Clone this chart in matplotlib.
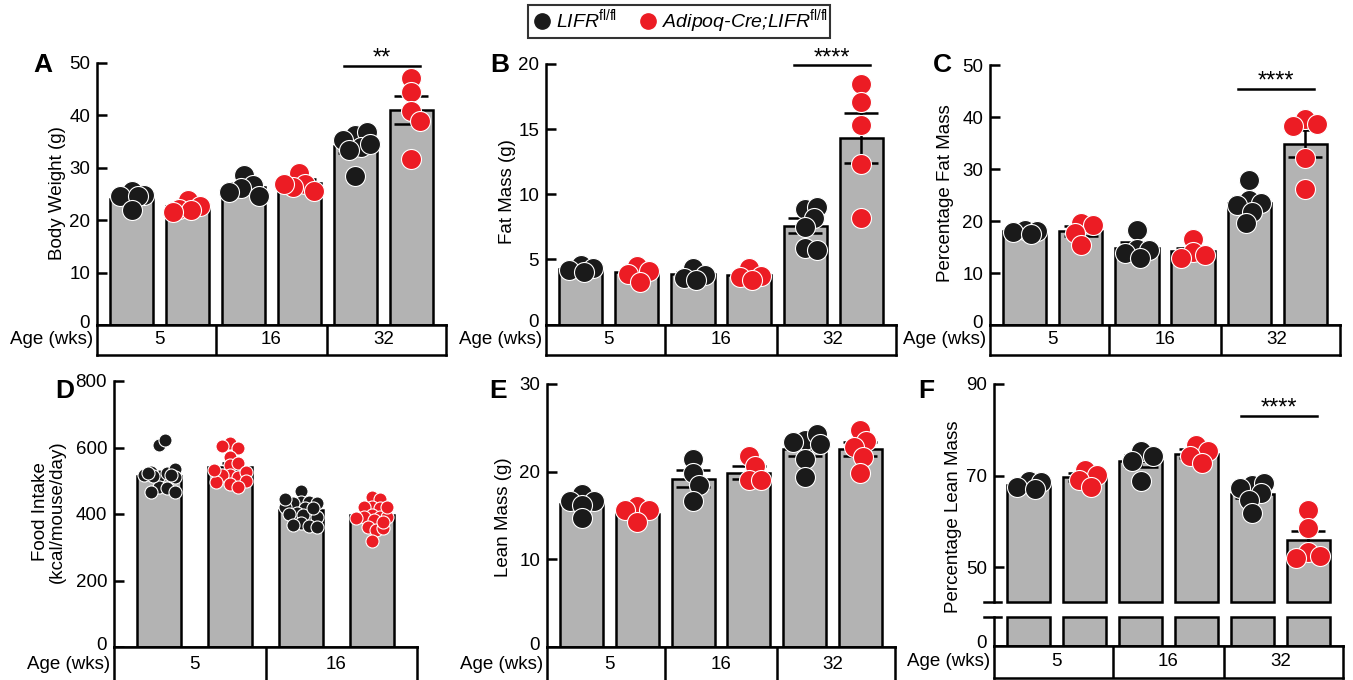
"""
LIFR adipocyte knockout: body composition panels A-F
"""

import numpy as np
import matplotlib.pyplot as plt
from matplotlib.lines import Line2D
from matplotlib.transforms import ScaledTranslation

plt.rcParams['font.family'] = ['Liberation Sans', 'DejaVu Sans']
plt.rcParams['mathtext.fontset'] = 'custom'
plt.rcParams['mathtext.rm'] = 'Liberation Sans'
plt.rcParams['mathtext.it'] = 'Liberation Sans:italic'

RED = '#ec1c24'
BLACK = '#1a1a1a'
GRAY = '#b3b3b3'

######################################
# data (bars alternate: LIFR fl/fl, Adipoq-Cre;LIFR fl/fl)
######################################
ages3 = ['5', '16', '32']
ages2 = ['5', '16']

bw_mean = [24.1, 22.6, 26.4, 27.0, 34.1, 41.0]
bw_sem = [0.6, 0.5, 0.7, 0.8, 1.3, 2.6]
bw_dots = [[25.6, 24.8, 24.5, 24.6, 22.0],
           [23.8, 22.6, 22.2, 22.0, 21.5],
           [28.6, 26.7, 26.2, 25.4, 24.5],
           [29.0, 26.9, 26.4, 25.6, 26.8],
           [36.2, 36.7, 35.3, 34.0, 33.4, 28.4, 34.5],
           [47.0, 44.5, 40.7, 38.8, 31.6]]

fat_mean = [4.26, 4.0, 3.85, 3.8, 7.6, 14.3]
fat_sem = [0.15, 0.25, 0.2, 0.15, 0.6, 1.9]
fat_dots = [[4.6, 4.3, 4.2, 4.0],
            [4.5, 4.1, 3.85, 3.3],
            [4.3, 3.8, 3.6, 3.4],
            [4.3, 3.7, 3.65, 3.4],
            [8.9, 9.05, 8.15, 7.5, 5.85, 5.7],
            [18.5, 17.1, 15.3, 12.3, 8.2]]

pfat_mean = [18.0, 18.1, 14.9, 14.3, 23.4, 34.9]
pfat_sem = [0.4, 1.0, 1.0, 0.6, 1.2, 2.6]
pfat_dots = [[18.3, 18.1, 17.8, 17.5],
             [19.7, 19.2, 17.6, 15.4],
             [18.3, 14.7, 14.4, 13.8, 12.8],
             [16.5, 14.1, 13.5, 12.8],
             [27.9, 24.0, 23.5, 23.1, 21.8, 19.7],
             [39.6, 38.7, 38.2, 32.1, 26.2]]

food_mean = [515, 542, 412, 397]
food_sem = [10, 10, 7, 8]
food_dots = [[607, 624, 514, 522, 527, 534, 517, 512, 482, 477, 467, 465, 515, 522, 517],
             [614, 600, 604, 572, 547, 552, 517, 512, 517, 527, 497, 500, 489, 480, 532],
             [470, 437, 437, 432, 432, 422, 417, 402, 400, 400, 397, 392, 372, 365, 367, 360, 417, 444],
             [452, 444, 422, 422, 417, 397, 392, 392, 392, 387, 382, 362, 352, 319, 422, 357, 377]]

lean_mean = [16.3, 15.2, 19.2, 19.9, 22.6, 22.6]
lean_sem = [0.4, 0.3, 1.0, 0.7, 0.8, 0.8]
lean_dots = [[17.4, 16.7, 16.6, 16.2, 14.7],
             [16.1, 15.6, 15.6, 14.3],
             [21.4, 19.8, 18.5, 16.7],
             [21.8, 20.6, 19.1, 19.1],
             [23.6, 24.3, 23.4, 23.1, 21.4, 19.4],
             [24.7, 23.5, 22.8, 21.7, 19.8]]

plean_mean = [67.85, 69.6, 73.1, 74.8, 66.0, 55.8]
plean_sem = [0.3, 0.9, 1.3, 0.9, 1.0, 2.0]
plean_dots = [[68.7, 68.5, 67.4, 67.0],
              [71.3, 70.2, 69.0, 67.5],
              [75.3, 74.3, 73.1, 68.7],
              [76.7, 75.3, 74.3, 72.7],
              [68.0, 68.4, 67.3, 66.2, 64.7, 61.7],
              [62.4, 58.5, 53.2, 52.3, 51.9]]

######################################
# layout helpers
######################################
W, H = 1353, 680
fig = plt.figure(figsize=(W / 100, H / 100), dpi=100)


def rect(l, t, r, b):
    return [l / W, 1 - b / H, (r - l) / W, (b - t) / H]


def swarm(vals, ax, d, maxoff):
    # simple deterministic beeswarm in pixel space, points may overlap a bit
    bb = ax.get_window_extent()
    y0, y1 = ax.get_ylim()
    x0, x1 = ax.get_xlim()
    ypx = bb.height / (y1 - y0)
    xpx = bb.width / (x1 - x0)
    steps = np.arange(0, maxoff + 0.01, 0.15 * d)
    cands = sorted(list(steps) + list(-steps[1:]), key=abs)
    placed, offs = [], []
    for v in vals:
        y = v * ypx
        best, bestd = 0, -1
        for c in cands:
            md = min([np.hypot(c - px, y - py) for px, py in placed] + [1e9])
            if md >= 0.6 * d:
                best = c
                break
            if md > bestd:
                best, bestd = c, md
        placed.append((best, y))
        offs.append(best / xpx)
    return offs


def style_axis(ax, ticks, ylim, xlim):
    ax.set_xlim(*xlim)
    ax.set_ylim(*ylim)
    ax.set_yticks(ticks)
    ax.set_xticks([])
    for s in ['top', 'right']:
        ax.spines[s].set_visible(False)
    for s in ['left', 'bottom']:
        ax.spines[s].set_linewidth(1.8)
    ax.tick_params(axis='y', direction='in', length=7, width=1.8, labelsize=13.5, pad=5)


def lift_zero(ax, px=4):
    lab = ax.yaxis.get_major_ticks()[0].label1
    lab.set_transform(lab.get_transform() + ScaledTranslation(0, px / 100, fig.dpi_scale_trans))


def draw_bars(ax, means, sems, dots, width, capsize, ms, bottom=0):
    pos = np.arange(len(means))
    ax.bar(pos, np.array(means) - bottom, bottom=bottom, width=width, color=GRAY,
           edgecolor='black', linewidth=1.8, zorder=2, clip_on=False)
    ax.errorbar(pos, means, yerr=sems, fmt='none', ecolor='black', elinewidth=1.8,
                capsize=capsize, capthick=1.8, zorder=3)
    bw_px = ax.get_window_extent().width / np.diff(ax.get_xlim())[0] * width
    for i, vals in enumerate(dots):
        col = BLACK if i % 2 == 0 else RED
        offs = swarm(vals, ax, ms / 72 * 100, 0.38 * bw_px)
        ax.plot(pos[i] + np.array(offs), vals, 'o', ms=ms, mfc=col, mec='white',
                mew=0.8, zorder=4, clip_on=False, ls='')


def age_box(r, xlim, ages):
    bx = fig.add_axes(r)
    bx.set_xlim(*xlim)
    bx.set_ylim(0, 1)
    bx.set_xticks([])
    bx.set_yticks([])
    for s in bx.spines.values():
        s.set_linewidth(1.8)
    for i in range(1, len(ages)):
        bx.axvline(2 * i - 0.5, color='black', lw=1.8)
    for i, a in enumerate(ages):
        bx.text(2 * i + 0.5, 0.5, a, ha='center', va='center', fontsize=13.5)
    bx.annotate('Age (wks)', xy=(0, 0.5), xycoords='axes fraction', xytext=(-4, 0),
                textcoords='offset pixels', ha='right', va='center', fontsize=13.5,
                annotation_clip=False)
    return bx


def sig(ax, y, stars, x0=3.8, x1=5.16):
    ax.plot([x0, x1], [y, y], color='black', lw=1.8, clip_on=False, zorder=5)
    ax.annotate(stars, xy=((x0 + x1) / 2, y), xytext=(0, 1), textcoords='offset pixels',
                ha='center', va='baseline', fontsize=17, annotation_clip=False)


XL6 = (-0.62, 5.62)
XL4 = (-0.64, 3.64)

######################################
# A - C
######################################
axA = fig.add_axes(rect(97, 62.7, 446, 325))
style_axis(axA, range(0, 51, 10), (0, 50), XL6)
draw_bars(axA, bw_mean, bw_sem, bw_dots, 0.77, 12, 14.4)
sig(axA, 49.4, '**')
age_box(rect(97, 325, 446, 355), XL6, ages3)

axB = fig.add_axes(rect(546, 64, 896, 324.5))
style_axis(axB, range(0, 21, 5), (0, 20), XL6)
draw_bars(axB, fat_mean, fat_sem, fat_dots, 0.77, 12, 14.4)
sig(axB, 19.9, '****')
age_box(rect(546, 324.5, 896, 355), XL6, ages3)

axC = fig.add_axes(rect(990, 65, 1340, 325))
style_axis(axC, range(0, 51, 10), (0, 50), XL6)
draw_bars(axC, pfat_mean, pfat_sem, pfat_dots, 0.77, 12, 14.4)
sig(axC, 45.4, '****')
age_box(rect(990, 325, 1340, 355), XL6, ages3)

######################################
# D - F
######################################
axD = fig.add_axes(rect(114, 381, 417, 647))
style_axis(axD, range(0, 801, 200), (0, 800), XL4)
draw_bars(axD, food_mean, food_sem, food_dots, 0.62, 5.5, 9.4)
age_box(rect(114, 647, 417, 682), XL4, ages2)

axE = fig.add_axes(rect(547, 384, 895, 647))
style_axis(axE, range(0, 31, 10), (0, 30), XL6)
draw_bars(axE, lean_mean, lean_sem, lean_dots, 0.77, 12, 14.4)
age_box(rect(547, 647, 895, 682), XL6, ages3)

# F with broken axis
F_LOW = 42.35
axF = fig.add_axes(rect(994, 384, 1343, 602))
style_axis(axF, [50, 70, 90], (F_LOW, 90), XL6)
axF.spines['bottom'].set_visible(False)
draw_bars(axF, plean_mean, plean_sem, plean_dots, 0.77, 12, 14.4, bottom=F_LOW)
sig(axF, 83.1, '****')
axF.plot([-0.03, 0.02], [0, 0], color='black', lw=1.8, transform=axF.transAxes, clip_on=False)

axF2 = fig.add_axes(rect(994, 617, 1343, 646))
style_axis(axF2, [0], (0, 6), XL6)
axF2.bar(np.arange(6), [6] * 6, width=0.77, color=GRAY, edgecolor='black',
         linewidth=1.8, zorder=2, clip_on=False)
axF2.plot([-0.03, 0.02], [1, 1], color='black', lw=1.8, transform=axF2.transAxes, clip_on=False)
age_box(rect(994, 646, 1343, 678), XL6, ages3)

for ax in [axA, axB, axC, axD, axE, axF2]:
    lift_zero(ax)

######################################
# labels
######################################
ylabels = [(58, 193, 'Body Weight (g)'), (508, 192, 'Fat Mass (g)'),
           (945, 193, 'Percentage Fat Mass'), (49, 512, 'Food Intake\n(kcal/mouse/day)'),
           (504, 517, 'Lean Mass (g)'), (953, 517, 'Percentage Lean Mass')]
for x, y, t in ylabels:
    fig.text(x / W, 1 - y / H, t, rotation=90, ha='center', va='center',
             fontsize=13.5, linespacing=1.05)

letters = [(33, 72, 'A'), (490, 72, 'B'), (933, 72, 'C'),
           (55, 398, 'D'), (489, 398, 'E'), (918, 398, 'F')]
for x, y, t in letters:
    fig.text(x / W, 1 - y / H, t, fontsize=19, fontweight='bold', va='baseline')

handles = [Line2D([], [], marker='o', ls='', color=BLACK, ms=11),
           Line2D([], [], marker='o', ls='', color=RED, ms=11)]
labels = [r'LIFR$^{\mathrm{fl/fl}}$', r'Adipoq-Cre;LIFR$^{\mathrm{fl/fl}}$']
leg = fig.legend(handles, labels, loc='upper center', bbox_to_anchor=(0.502, 0.9926),
                 ncol=2, frameon=True, fancybox=False, edgecolor='black',
                 prop={'style': 'italic', 'size': 14}, handletextpad=0.1,
                 columnspacing=1.0, borderpad=0.12, borderaxespad=0,
                 handlelength=1.2, handleheight=0.5)
leg.get_frame().set_linewidth(1.5)

fig.savefig('out.png', dpi=100)
